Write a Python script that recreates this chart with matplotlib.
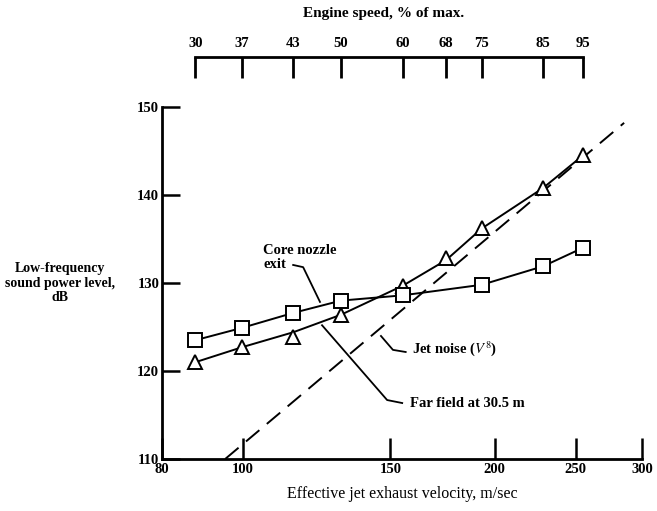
import matplotlib.pyplot as plt
from matplotlib.ticker import NullLocator

# top scale: engine speed (% of max) and matching exhaust velocity (m/sec)
speed_pct = [30, 37, 43, 50, 60, 68, 75, 85, 95]
speed_vel = [87.7, 99.7, 114.8, 131.0, 155.3, 174.9, 193.0, 228.5, 255.0]

# core nozzle exit (squares) - no point at 68 %
core_vel = [87.7, 99.7, 114.8, 131.0, 155.3, 193.0, 228.5, 255.0]
core_db = [123.5, 124.9, 126.6, 128.0, 128.6, 129.8, 131.9, 134.0]

# far field at 30.5 m (triangles) and the faired line through them
far_vel = speed_vel
far_db = [121.0, 122.7, 123.9, 126.4, 129.7, 132.8, 136.25, 140.8, 144.5]
far_line_db = [121.0, 122.7, 124.4, 126.4, 129.7, 132.6, 136.2, 140.8, 144.5]

# jet noise V^8 reference line (end points)
jet_vel = [95.2, 285.6]
jet_db = [110.0, 148.2]

x_ticks = [80, 100, 150, 200, 250, 300]
y_ticks = [110, 120, 130, 140, 150]

serif = 'Liberation Serif'
plt.rcParams['font.family'] = serif
plt.rcParams['mathtext.fontset'] = 'stix'

fig = plt.figure(figsize=(6.57, 5.11), dpi=100)
ax = fig.add_axes([162 / 657, 52 / 511, 480 / 657, 352 / 511])
ax.set_xscale('log')
ax.set_xlim(80, 300)
ax.set_ylim(110, 150)
ax.xaxis.set_minor_locator(NullLocator())
ax.set_xticks(x_ticks)
ax.set_xticklabels([str(t) for t in x_ticks], fontsize=10.5, fontweight='bold')
ax.set_yticks(y_ticks)
ax.set_yticklabels([str(t) for t in y_ticks], fontsize=10.5, fontweight='bold')
ax.tick_params(axis='x', direction='in', length=15, width=1.8, pad=3)
ax.tick_params(axis='y', direction='in', length=13, width=1.8, pad=2)
for s in ['top', 'right']:
    ax.spines[s].set_visible(False)
for s in ['left', 'bottom']:
    ax.spines[s].set_linewidth(2)

# data
ax.plot(jet_vel, jet_db, color='black', lw=1.4, dashes=(9, 5))
ax.plot(far_vel, far_line_db, color='black', lw=1.4)
ax.plot(far_vel, far_db, ls='none', marker='^', ms=10, mfc='white',
        mec='black', mew=1.4)
ax.plot(core_vel, core_db, color='black', lw=1.4, marker='s', ms=10,
        mfc='white', mec='black', mew=1.4)

# callouts
ax.text(105.7, 132.9, 'Core nozzle\nexit', fontsize=10.5, fontweight='bold',
        ha='left', va='center', linespacing=1.15)
ax.plot([114.8, 118.0, 123.6], [132.05, 131.8, 127.85], color='black', lw=1.3)
ax.plot([124.3, 148.7, 155.0], [125.2, 116.7, 116.36], color='black', lw=1.3)
ax.text(158.5, 116.25, 'Far field at 30.5 m', fontsize=10.5, fontweight='bold',
        ha='left', va='center')
ax.plot([146.2, 151.1, 156.5], [123.98, 122.4, 122.16], color='black', lw=1.3)
ax.text(159.3, 122.5, 'Jet noise ($V^8$)', fontsize=10.5, fontweight='bold',
        ha='left', va='center')

ax.set_xlabel('Effective jet exhaust velocity, m/sec', fontsize=11.5, labelpad=7)
fig.text(60 / 657, 1 - 283 / 511, 'Low-frequency\nsound power level,\ndB',
         ha='center', va='center', fontsize=10, fontweight='bold',
         multialignment='center', linespacing=1.15)

# engine speed scale above the plot
top = fig.add_axes([162 / 657, 1 - 77 / 511, 480 / 657, 20 / 511])
top.set_xscale('log')
top.set_xlim(80, 300)
top.set_ylim(0, 1)
top.patch.set_visible(False)
for s in ['left', 'right', 'bottom']:
    top.spines[s].set_visible(False)
top.spines['top'].set_linewidth(2)
top.spines['top'].set_bounds(speed_vel[0], speed_vel[-1])
top.set_yticks([])
top.xaxis.set_minor_locator(NullLocator())
top.xaxis.tick_top()
top.set_xticks(speed_vel)
top.set_xticklabels([str(p) for p in speed_pct], fontsize=10.5, fontweight='bold')
top.tick_params(axis='x', direction='in', length=15, width=2, pad=5)
fig.text(384 / 657, 1 - 14 / 511, 'Engine speed, % of max.', ha='center',
         va='center', fontsize=11, fontweight='bold')

fig.savefig('out.png', dpi=100)
